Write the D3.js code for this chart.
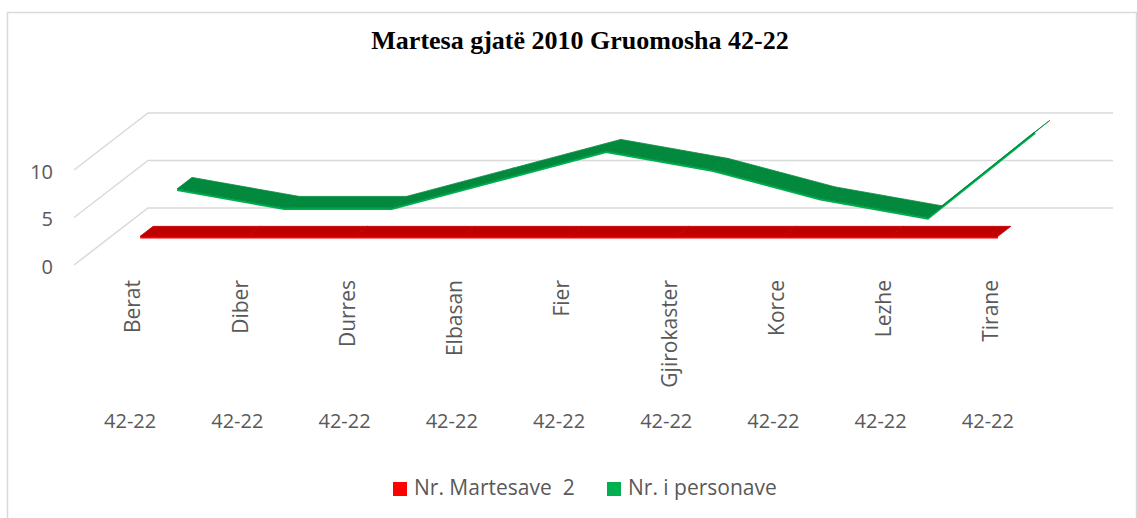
<!DOCTYPE html>
<html>
<head>
<meta charset="utf-8">
<script src="https://cdn.jsdelivr.net/npm/d3@7"></script>
<style>
	body { margin: 0; background: #fff; }
	svg { display: block; }
	text { font-family: "Open Sans", sans-serif; fill: #595959; }
</style>
</head>
<body>
<div class="graphic"></div>
<script>
var categories = ['Berat', 'Diber', 'Durres', 'Elbasan', 'Fier', 'Gjirokaster', 'Korce', 'Lezhe', 'Tirane'];
var ageGroups = ['42-22', '42-22', '42-22', '42-22', '42-22', '42-22', '42-22', '42-22', '42-22'];
var martesave = [2, 2, 2, 2, 2, 2, 2, 2, 2];
var personave = [4, 2, 2, 5, 8, 6, 3, 1, 10];
var yTicks = [0, 5, 10];
var seriesNames = ['Nr. Martesave  2', 'Nr. i personave'];

function makeChart() {

	var width = 1137;
	var height = 518;

	// depth of the 3d box, in px
	var depthX = 74;
	var depthY = -57;

	var svg = d3.select('.graphic').append('svg')
		.attr('width', width)
		.attr('height', height)
		.attr('viewBox', `0 0 ${width} ${height}`);

	svg.append('rect')
		.attr('x', 7.5)
		.attr('y', 12.5)
		.attr('width', 1129)
		.attr('height', 520)
		.attr('fill', 'none')
		.attr('stroke', '#d9d9d9')
		.attr('stroke-width', 1.5);

	svg.append('text')
		.attr('x', 580)
		.attr('y', 49)
		.attr('text-anchor', 'middle')
		.style('font-family', '"Liberation Serif", "Times New Roman", serif')
		.style('font-weight', 'bold')
		.style('font-size', '26px')
		.style('fill', '#000')
		.text('Martesa gjatë 2010 Gruomosha 42-22');

	var x = d3.scaleBand()
		.domain(categories)
		.range([74, 1039]);

	var y = d3.scaleLinear()
		.domain([0, 10])
		.range([265, 170]);

	function proj(cat, v, f) {
		return [x(cat) + x.bandwidth() / 2 + depthX * f, y(v) + depthY * f];
	}

	// gridlines: side wall diagonal + back wall
	var grid = svg.append('g');
	yTicks.forEach(function(t) {
		grid.append('path')
			.attr('d', d3.line()([
				[x.range()[0], y(t)],
				[x.range()[0] + depthX, y(t) + depthY],
				[x.range()[1] + depthX, y(t) + depthY]
			]))
			.attr('fill', 'none')
			.attr('stroke', '#d9d9d9')
			.attr('stroke-width', 1.5);
	});

	var yAxis = d3.axisLeft(y)
		.tickValues(yTicks)
		.tickSize(0)
		.tickPadding(0);

	var ya = svg.append('g')
		.attr('transform', 'translate(53,2)')
		.call(yAxis);
	ya.select('.domain').remove();
	ya.selectAll('text')
		.style('font-family', '"Open Sans", sans-serif')
		.style('font-size', '20px')
		.style('fill', '#595959');

	// ribbons
	var series = [
		{ name: seriesNames[1], values: personave, f0: 0.67, f1: 0.87, face: '#03893e', edge: '#00b050' },
		{ name: seriesNames[0], values: martesave, f0: 0.17, f1: 0.345, face: '#c00000', edge: '#ff0000' }
	];

	series.forEach(function(s) {
		var g = svg.append('g');
		var front = categories.map(function(c, i) { return proj(c, s.values[i], s.f0); });
		var back = categories.map(function(c, i) { return proj(c, s.values[i], s.f1); });

		g.append('path')
			.attr('d', d3.line()(front))
			.attr('fill', 'none')
			.attr('stroke', s.edge)
			.attr('stroke-width', 2.5)
			.attr('transform', 'translate(0,1)');

		g.selectAll('path.seg')
			.data(d3.range(categories.length - 1))
			.enter()
			.append('path')
			.attr('class', 'seg')
			.attr('d', function(i) {
				return d3.line()([front[i], front[i + 1], back[i + 1], back[i]]) + 'Z';
			})
			.attr('fill', s.face)
			.attr('stroke', s.face)
			.attr('stroke-width', 0.8)
			.attr('stroke-linejoin', 'round');
	});

	// category labels
	svg.append('g').selectAll('text')
		.data(categories)
		.enter()
		.append('text')
		.attr('transform', function(d) {
			return `translate(${x(d) + x.bandwidth() / 2 + 5.5},280) rotate(-90)`;
		})
		.attr('text-anchor', 'end')
		.attr('dy', '0.35em')
		.style('font-size', '21px')
		.text(function(d) { return d; });

	svg.append('g').selectAll('text')
		.data(ageGroups)
		.enter()
		.append('text')
		.attr('x', function(d, i) { return x(categories[i]) + x.bandwidth() / 2 + 2.5; })
		.attr('y', 428)
		.attr('text-anchor', 'middle')
		.style('font-size', '20px')
		.text(function(d) { return d; });

	// legend
	var legend = [
		{ name: seriesNames[0], color: '#ff0000', x: 393, tx: 414 },
		{ name: seriesNames[1], color: '#00b050', x: 607, tx: 628 }
	];
	var lg = svg.append('g');
	lg.selectAll('rect')
		.data(legend)
		.enter()
		.append('rect')
		.attr('x', function(d) { return d.x; })
		.attr('y', 482)
		.attr('width', 14)
		.attr('height', 14)
		.attr('fill', function(d) { return d.color; });
	lg.selectAll('text')
		.data(legend)
		.enter()
		.append('text')
		.attr('x', function(d) { return d.tx; })
		.attr('y', 495)
		.style('font-size', '21px')
		.style('white-space', 'pre')
		.text(function(d) { return d.name; });
}

makeChart();
</script>
</body>
</html>
